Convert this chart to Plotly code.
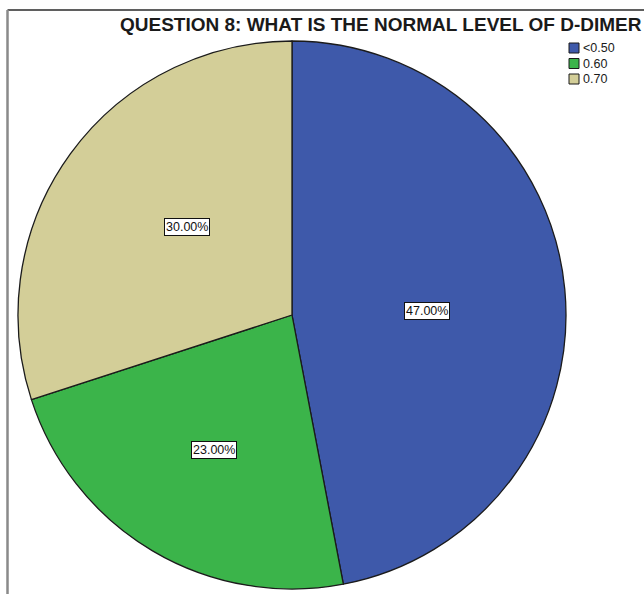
import math
import plotly.graph_objects as go

# Survey answers for question 8
labels = ["<0.50", "0.60", "0.70"]
shares = [47.0, 23.0, 30.0]
colors = ["#3e59aa", "#3bb44a", "#d3ce98"]
title_text = "QUESTION 8: WHAT IS THE NORMAL LEVEL OF D-DIMER"

W, H = 644, 594
# pie placement in pixels (centre and radius)
cx, cy, r = 292, 315, 274
# value-box placement: fraction of the radius and a small angular nudge (deg)
label_radius = [0.493, 0.57, 0.50]
label_nudge = [3.7, -0.6, 4.0]

fig = go.Figure()
fig.add_trace(go.Pie(
    labels=labels,
    values=shares,
    sort=False,
    direction="clockwise",
    rotation=0,
    marker=dict(colors=colors, line=dict(color="#1b1b1b", width=1.3)),
    textinfo="none",
    hoverinfo="label+percent",
    showlegend=False,
    domain=dict(x=[(cx - r) / W, (cx + r) / W],
                y=[1 - (cy + r) / H, 1 - (cy - r) / H]),
))

annotations = []
shapes = []

# value boxes placed near each slice's mid-angle
total = sum(shares)
cum = 0.0
for v, k, nudge in zip(shares, label_radius, label_nudge):
    mid = (cum + v / 2) / total * 2 * math.pi + math.radians(nudge)
    cum += v
    px = cx + k * r * math.sin(mid)
    py = cy - k * r * math.cos(mid)
    annotations.append(dict(
        x=px / W, y=1 - py / H, xref="paper", yref="paper",
        xanchor="center", yanchor="middle",
        text=f"{v / total * 100:.2f}%", showarrow=False,
        font=dict(family="Liberation Sans, Arial", size=12.5, color="#111"),
        bgcolor="white", bordercolor="#111", borderwidth=1, borderpad=1,
    ))

# title
annotations.append(dict(
    x=380.5 / W, y=1 - 25 / H, xref="paper", yref="paper",
    text=f"<b>{title_text}</b>", showarrow=False,
    font=dict(family="Liberation Sans, Arial", size=19, color="#1a1a1a"),
    xanchor="center", yanchor="middle",
))

# legend: swatches with labels
for i, (lab, col) in enumerate(zip(labels, colors)):
    yc = 48 + i * 15.5
    shapes.append(dict(
        type="rect", xref="paper", yref="paper",
        x0=569 / W, x1=579 / W, y0=1 - (yc + 5) / H, y1=1 - (yc - 5) / H,
        fillcolor=col, line=dict(color="#1b1b1b", width=1),
    ))
    annotations.append(dict(
        x=581 / W, y=1 - yc / H, xref="paper", yref="paper",
        text=lab, showarrow=False, xanchor="left", yanchor="middle",
        font=dict(family="Liberation Sans, Arial", size=12.5, color="#1a1a1a"),
    ))

# chart frame (top and left edges)
shapes.append(dict(type="line", xref="paper", yref="paper",
                   x0=7.5 / W, x1=1.02, y0=1 - 10 / H, y1=1 - 10 / H,
                   line=dict(color="#2a2a2a", width=1.5)))
shapes.append(dict(type="line", xref="paper", yref="paper",
                   x0=7.5 / W, x1=7.5 / W, y0=-0.02, y1=1 - 10 / H,
                   line=dict(color="#8a8a8a", width=2.5)))

fig.update_layout(
    width=W, height=H,
    margin=dict(l=0, r=0, t=0, b=0),
    paper_bgcolor="white",
    plot_bgcolor="white",
    annotations=annotations,
    shapes=shapes,
)

fig.write_html("out.html")
